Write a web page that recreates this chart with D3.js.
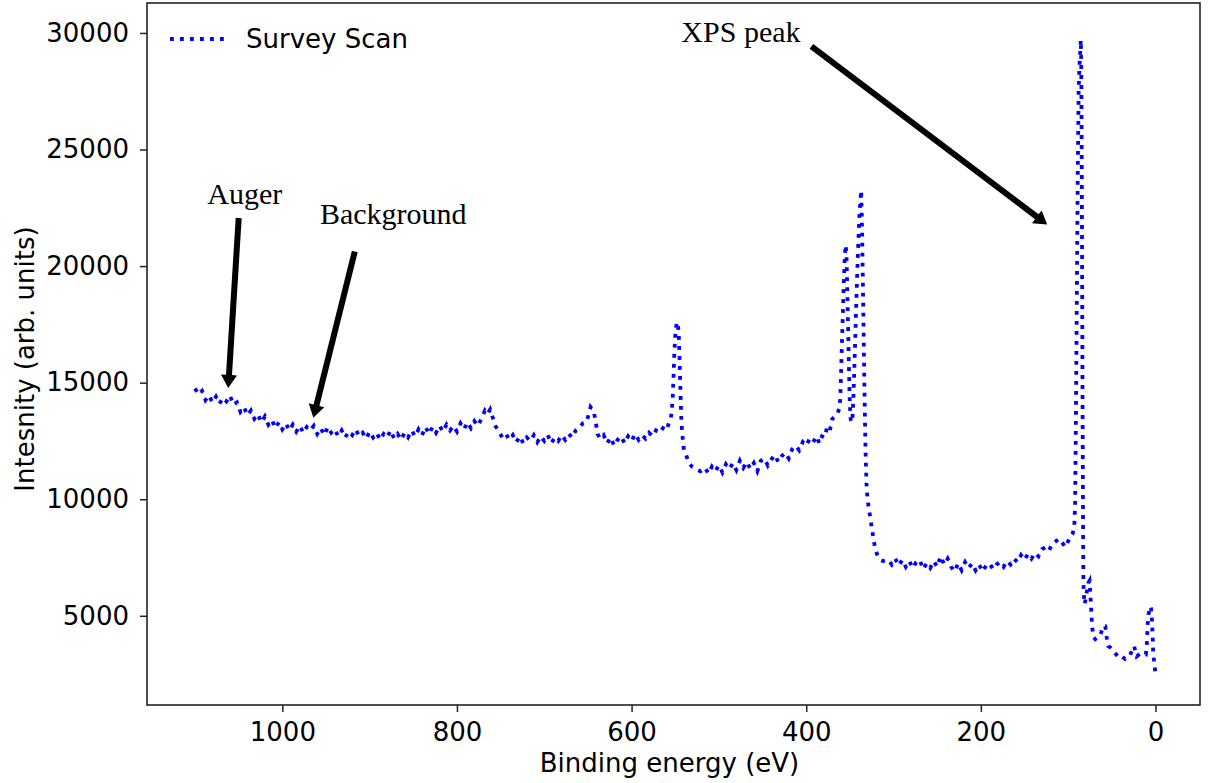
<!DOCTYPE html>
<html>
<head>
<meta charset="utf-8">
<script src="https://cdn.jsdelivr.net/npm/d3@7"></script>
<style>
  body { margin: 0; background: #fff; }
  svg { display: block; font-family: "DejaVu Sans", sans-serif; }
</style>
</head>
<body>
<div id="chart"></div>
<script>
// survey scan, [binding energy (eV), intensity (arb. units)]
const survey = [
  [1100,14750],[1096,14500],[1092,14650],[1088,14250],[1084,14450],[1080,14150],[1076,14400],
  [1072,14100],[1068,14350],[1064,14200],[1060,14450],[1056,14050],[1052,14150],[1048,13750],
  [1044,13950],[1040,13600],[1036,13800],[1032,13450],[1028,13650],[1024,13300],[1020,13550],
  [1016,13200],[1012,13400],[1008,13050],[1004,13300],[1000,13000],[996,13250],[992,12950],
  [988,13200],[984,12900],[980,13150],[976,12850],[972,13100],[968,12950],[964,13150],[960,12800],
  [956,13050],[952,12750],[948,13100],[944,12850],[940,13000],[936,12700],[932,12950],[928,12650],
  [924,12900],[920,12750],[916,13000],[912,12700],[908,12850],[904,12600],[900,12900],[896,12650],
  [892,12850],[888,12550],[884,12800],[880,12650],[876,12950],[872,12600],[868,12800],[864,12550],
  [860,12850],[856,12650],[852,12950],[848,12700],[844,13000],[840,12750],[836,13100],[832,12800],
  [828,13100],[824,12850],[820,13150],[816,12900],[812,13200],[808,12950],[804,13150],[800,12900],
  [796,13250],[792,13000],[788,13300],[784,13050],[780,13350],[776,13150],[772,13450],[768,13800],
  [765,13650],[762,13850],[759,13500],[756,13150],[752,12900],[748,12650],
  [744,12800],[740,12550],[736,12750],[732,12450],[728,12700],[724,12400],[720,12650],[716,12500],
  [712,12750],[708,12450],[704,12700],[700,12500],[696,12750],[692,12400],[688,12650],[684,12500],
  [680,12750],[676,12550],[672,12800],[668,12650],[664,12950],[660,13050],[656,13250],[652,13300],
  [649,13650],[647,13950],[645,13850],[643,13700],[641,13300],[639,12800],[636,12600],[632,12750],
  [628,12400],[624,12650],[620,12300],[616,12550],[612,12700],[608,12400],[604,12700],[600,12500],
  [596,12800],[592,12550],[588,12750],[584,12600],[580,12850],[576,12700],[572,12950],[568,12850],
  [564,13050],[560,12950],[557,13300],
  [555,13500],[554,13800],[553,14300],[552,15200],[551,16300],[550,17000],[549,17400],[548,17600],
  [547,17500],[546,17100],[545,16000],[544,14600],[543,13400],[542,12800],[540,12100],[537.5,11900],
  [535,11600],[531,11400],[525,11270],[521,11200],
  [516,11350],[512,11100],[508,11400],[504,11200],[500,11450],[496,11150],[492,11500],[488,11300],
  [484,11550],[480,11250],[476,11650],[472,11350],[468,11600],[464,11300],[460,11550],[456,11200],
  [452,11650],[448,11750],[444,11450],[440,11700],[436,11900],[432,11600],[428,11850],[424,12000],
  [420,11750],[416,12150],[412,12300],[408,12100],[404,12450],[400,12300],[396,12600],[392,12450],
  [388,12700],[385,12400],[382,12700],[379,12650],[376,13100],[373,12950],[370,13450],[367,13550],
  [364,13700],[362,13900],
  [361,14300],[360,15500],[359,16800],[358,18000],[357,19200],[356,20200],[355,20900],[354,20600],
  [353,19000],[352,17300],[351,15500],[350,14000],[349,13400],[348,13300],[347,13500],[346,14300],
  [345,15500],[344,16700],[343,18000],[342,19200],[341,20300],[340,21300],[339,22200],[338,22800],
  [337,23250],[336,21500],[335,19000],[334,16500],[333,14000],[332,12000],[331,10700],[330,10100],
  [329,9800],[327,9300],[325,8800],[323,8300],[321,7900],[319,7650],[317,7500],[315,7400],[312,7350],
  [306,7400],[302,7200],[298,7450],[294,7150],[290,7400],[286,7100],[282,7350],[278,7050],
  [274,7300],[270,7400],[266,7000],[262,7250],[258,7050],[254,7350],[250,7100],[246,7550],
  [242,7200],[238,7450],[234,7100],[230,6900],[226,7250],[222,6950],[218,7300],[214,7050],
  [210,7250],[206,6950],[202,7200],[198,6900],[194,7150],[190,7250],[186,7000],[182,7200],
  [178,7300],[174,7100],[170,7350],[166,7200],[162,7450],[158,7300],[154,7600],[150,7400],
  [146,7650],[142,7450],[138,7700],[134,7550],[130,7850],[126,7950],[122,7800],[118,8100],
  [114,8200],[110,8300],[106,8100],[103,7950],[100,8200],[97,8400],[95,8500],[93,8800],
  [92,9800],[91,14000],[90,19000],[89,24000],[88,27500],[87,28600],[86,29300],[85.5,29700],
  [85,28800],[84.5,25000],[84,20000],[83.5,14000],[83,9500],[82.5,6400],[82,5900],[81,5500],
  [79,5950],[77,6400],[75.5,6500],[74.5,5900],[73.5,5200],[72.5,4500],[71,4100],[69,4000],
  [67,4050],[64,4100],[62,4300],[60,4550],[57.5,4550],[56,4100],[54,3700],[52,3650],[49,3500],
  [46,3380],[42,3220],[38.5,3270],[35,3150],[32,3260],[29,3320],[27,3500],[24.5,3700],[21.5,3260],
  [17.5,3380],[14,3360],[11,3340],[10,3700],[9,4600],[8,5050],[6,5400],[5,5300],[4,4800],
  [3.3,4200],[2.7,3500],[1.5,3000],[0,2550]
];

const xTicks = [0, 200, 400, 600, 800, 1000];
const yTicks = [5000, 10000, 15000, 20000, 25000, 30000];

// annotations in data coords: text anchor, arrow start, arrow tip
const notes = [
  { label: 'XPS peak',   text: [543, 29630],  from: [394, 29420],  to: [124, 21780] },
  { label: 'Auger',      text: [1086, 22680], from: [1050, 22065], to: [1062, 14775] },
  { label: 'Background', text: [957, 21820],  from: [917, 20630],  to: [964.5, 13490] }
];

const W = 1218, H = 783;
const m = { left: 147, right: 1200, top: 3, bottom: 705 };

const svg = d3.select('#chart').append('svg')
  .attr('width', W)
  .attr('height', H);

const x = d3.scaleLinear().domain([1155, -51]).range([m.left, m.right]);
const y = d3.scaleLinear().domain([1174, 31285]).range([m.bottom, m.top]);

svg.append('defs').append('clipPath').attr('id', 'plot-clip')
  .append('rect')
  .attr('x', m.left).attr('y', m.top)
  .attr('width', m.right - m.left).attr('height', m.bottom - m.top);

// axes
const xAxis = svg.append('g')
  .attr('transform', `translate(0,${m.bottom})`)
  .call(d3.axisBottom(x).tickValues(xTicks).tickSize(7).tickPadding(11).tickFormat(d3.format('d')));
const yAxis = svg.append('g')
  .attr('transform', `translate(${m.left},0)`)
  .call(d3.axisLeft(y).tickValues(yTicks).tickSize(7).tickPadding(11).tickFormat(d3.format('d')));

for (const ax of [xAxis, yAxis]) {
  ax.select('.domain').remove();
  ax.selectAll('.tick line').attr('stroke', '#222').attr('stroke-width', 1.5);
  ax.selectAll('.tick text')
    .attr('fill', '#000')
    .style('font-family', '"DejaVu Sans", sans-serif')
    .style('font-size', '26px');
}

// axis titles
svg.append('text')
  .attr('x', (m.left + m.right) / 2 - 4)
  .attr('y', 772)
  .attr('text-anchor', 'middle')
  .style('font-size', '26px')
  .text('Binding energy (eV)');

svg.append('text')
  .attr('transform', `translate(34,${(m.top + m.bottom) / 2 + 5}) rotate(-90)`)
  .attr('text-anchor', 'middle')
  .style('font-size', '26px')
  .text('Intesnity (arb. units)');

// the scan
const line = d3.line()
  .x(d => x(d[0]))
  .y(d => y(d[1]));

svg.append('path')
  .datum(survey)
  .attr('clip-path', 'url(#plot-clip)')
  .attr('fill', 'none')
  .attr('stroke', '#0000ff')
  .attr('stroke-width', 3.8)
  .attr('stroke-dasharray', '3.8,6.2')
  .attr('d', line);

// frame
svg.append('rect')
  .attr('x', m.left).attr('y', m.top)
  .attr('width', m.right - m.left).attr('height', m.bottom - m.top)
  .attr('fill', 'none')
  .attr('stroke', '#222')
  .attr('stroke-width', 1.6);

// legend
const legend = svg.append('g');
legend.append('line')
  .attr('x1', 170).attr('x2', 226)
  .attr('y1', 39).attr('y2', 39)
  .attr('stroke', '#0000ff')
  .attr('stroke-width', 3.8)
  .attr('stroke-dasharray', '3.8,6.2');
legend.append('text')
  .attr('x', 246).attr('y', 48)
  .style('font-size', '26px')
  .text('Survey Scan');

// annotations
function arrowPath(x1, y1, x2, y2) {
  const dx = x2 - x1, dy = y2 - y1;
  const len = Math.hypot(dx, dy);
  const ux = dx / len, uy = dy / len;
  const nx = -uy, ny = ux;
  const w = 3, hw = 8, hl = 13;
  const bx = x2 - ux * hl, by = y2 - uy * hl;
  const p = [
    [x1 + nx * w, y1 + ny * w],
    [bx + nx * w, by + ny * w],
    [bx + nx * hw, by + ny * hw],
    [x2, y2],
    [bx - nx * hw, by - ny * hw],
    [bx - nx * w, by - ny * w],
    [x1 - nx * w, y1 - ny * w]
  ];
  return 'M' + p.map(q => q.join(',')).join('L') + 'Z';
}

const ann = svg.append('g');
ann.selectAll('text')
  .data(notes)
  .join('text')
  .attr('x', d => x(d.text[0]))
  .attr('y', d => y(d.text[1]))
  .style('font-family', '"Liberation Serif", "Times New Roman", serif')
  .style('font-size', '30px')
  .text(d => d.label);

ann.selectAll('path')
  .data(notes)
  .join('path')
  .attr('fill', '#000')
  .attr('d', d => arrowPath(x(d.from[0]), y(d.from[1]), x(d.to[0]), y(d.to[1])));
</script>
</body>
</html>
